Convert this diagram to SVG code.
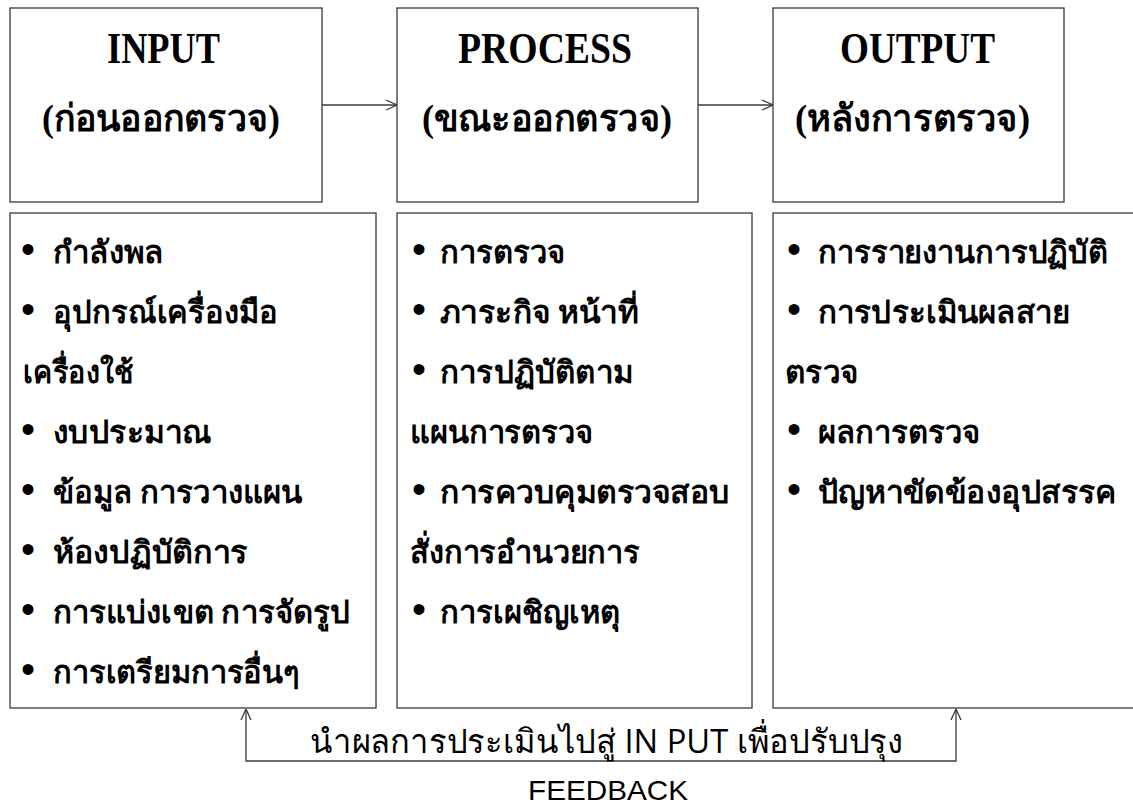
<svg xmlns="http://www.w3.org/2000/svg" width="1133" height="807" viewBox="0 0 1133 807">
<style>
.box{fill:#fff;stroke:#3a3a3a;stroke-width:1.3}
.hdr{font-family:"Liberation Serif","Noto Sans",serif;font-weight:bold;font-size:44px;fill:#000}
.th{font-family:"Liberation Serif","Noto Sans",serif;font-weight:bold;font-size:37px;fill:#000}
.li{font-family:"Liberation Serif","Noto Sans",serif;font-weight:bold;font-size:31px;fill:#000}
.bul{font-family:"Liberation Sans",sans-serif;font-size:40px;fill:#000}
.fb{font-family:"Open Sans","Noto Sans",sans-serif;font-size:33px;fill:#000}
.fbl{font-family:"Liberation Sans","Open Sans",sans-serif;font-size:28px;fill:#000}
.conn{fill:none;stroke:#3a3a3a;stroke-width:1.3}
</style>
<defs>
<marker id="ah" viewBox="0 0 12 12" refX="12" refY="6" markerWidth="12" markerHeight="12" markerUnits="userSpaceOnUse" orient="auto-start-reverse">
<path d="M1,1 L12,6 L1,11" fill="none" stroke="#3a3a3a" stroke-width="1.3"/>
</marker>
</defs>
<rect width="1133" height="807" fill="#fff"/>

<g id="input-head">
<rect class="box" x="10" y="8" width="312" height="194"/>
<text class="hdr" x="107" y="63" textLength="113" lengthAdjust="spacingAndGlyphs">INPUT</text>
<text class="th" x="42" y="131" textLength="238" lengthAdjust="spacingAndGlyphs">(ก่อนออกตรวจ)</text>
</g>
<g id="process-head">
<rect class="box" x="397" y="8" width="301" height="194"/>
<text class="hdr" x="458" y="63" textLength="174" lengthAdjust="spacingAndGlyphs">PROCESS</text>
<text class="th" x="422" y="131" textLength="250" lengthAdjust="spacingAndGlyphs">(ขณะออกตรวจ)</text>
</g>
<g id="output-head">
<rect class="box" x="773" y="8" width="291" height="194"/>
<text class="hdr" x="840" y="63" textLength="155" lengthAdjust="spacingAndGlyphs">OUTPUT</text>
<text class="th" x="795" y="131" textLength="235" lengthAdjust="spacingAndGlyphs">(หลังการตรวจ)</text>
</g>

<g id="input-list">
<rect class="box" x="10" y="213" width="366" height="495"/>
<text class="bul" x="21" y="263">•</text><text class="li" x="53" y="263" textLength="110" lengthAdjust="spacingAndGlyphs">กำลังพล</text>
<text class="bul" x="21" y="323">•</text><text class="li" x="53" y="323" textLength="225" lengthAdjust="spacingAndGlyphs">อุปกรณ์เครื่องมือ</text>
<text class="li" x="23" y="383" textLength="110" lengthAdjust="spacingAndGlyphs">เครื่องใช้</text>
<text class="bul" x="21" y="443">•</text><text class="li" x="53" y="443" textLength="159" lengthAdjust="spacingAndGlyphs">งบประมาณ</text>
<text class="bul" x="21" y="503">•</text><text class="li" x="53" y="503" textLength="249" lengthAdjust="spacingAndGlyphs">ข้อมูล การวางแผน</text>
<text class="bul" x="21" y="563">•</text><text class="li" x="53" y="563" textLength="195" lengthAdjust="spacingAndGlyphs">ห้องปฏิบัติการ</text>
<text class="bul" x="21" y="623">•</text><text class="li" x="53" y="623" textLength="297" lengthAdjust="spacingAndGlyphs">การแบ่งเขต การจัดรูป</text>
<text class="bul" x="21" y="683">•</text><text class="li" x="53" y="683" textLength="247" lengthAdjust="spacingAndGlyphs">การเตรียมการอื่นๆ</text>
</g>

<g id="process-list">
<rect class="box" x="397" y="213" width="355" height="495"/>
<text class="bul" x="412" y="263">•</text><text class="li" x="440" y="263" textLength="125" lengthAdjust="spacingAndGlyphs">การตรวจ</text>
<text class="bul" x="412" y="323">•</text><text class="li" x="440" y="323" textLength="198" lengthAdjust="spacingAndGlyphs">ภาระกิจ หน้าที่</text>
<text class="bul" x="412" y="383">•</text><text class="li" x="440" y="383" textLength="193" lengthAdjust="spacingAndGlyphs">การปฏิบัติตาม</text>
<text class="li" x="410" y="443" textLength="183" lengthAdjust="spacingAndGlyphs">แผนการตรวจ</text>
<text class="bul" x="412" y="503">•</text><text class="li" x="440" y="503" textLength="290" lengthAdjust="spacingAndGlyphs">การควบคุมตรวจสอบ</text>
<text class="li" x="410" y="563" textLength="230" lengthAdjust="spacingAndGlyphs">สั่งการอำนวยการ</text>
<text class="bul" x="412" y="623">•</text><text class="li" x="440" y="623" textLength="180" lengthAdjust="spacingAndGlyphs">การเผชิญเหตุ</text>
</g>

<g id="output-list">
<rect class="box" x="773" y="213" width="370" height="495"/>
<text class="bul" x="787" y="263">•</text><text class="li" x="818" y="263" textLength="290" lengthAdjust="spacingAndGlyphs">การรายงานการปฏิบัติ</text>
<text class="bul" x="787" y="323">•</text><text class="li" x="818" y="323" textLength="252" lengthAdjust="spacingAndGlyphs">การประเมินผลสาย</text>
<text class="li" x="785" y="383" textLength="73" lengthAdjust="spacingAndGlyphs">ตรวจ</text>
<text class="bul" x="787" y="443">•</text><text class="li" x="818" y="443" textLength="162" lengthAdjust="spacingAndGlyphs">ผลการตรวจ</text>
<text class="bul" x="787" y="503">•</text><text class="li" x="818" y="503" textLength="299" lengthAdjust="spacingAndGlyphs">ปัญหาขัดข้องอุปสรรค</text>
</g>

<g id="connectors">
<line class="conn" x1="322" y1="105" x2="397" y2="105" marker-end="url(#ah)"/>
<line class="conn" x1="698" y1="105" x2="773" y2="105" marker-end="url(#ah)"/>
<path class="conn" d="M956,709 V761 H246 V709" marker-start="url(#ah)" marker-end="url(#ah)"/>
</g>

<g id="feedback-label">
<text class="fb" x="310" y="753" textLength="593" lengthAdjust="spacingAndGlyphs">นำผลการประเมินไปสู่ IN PUT เพื่อปรับปรุง</text>
<text class="fbl" x="528" y="800" textLength="160" lengthAdjust="spacingAndGlyphs">FEEDBACK</text>
</g>
</svg>
